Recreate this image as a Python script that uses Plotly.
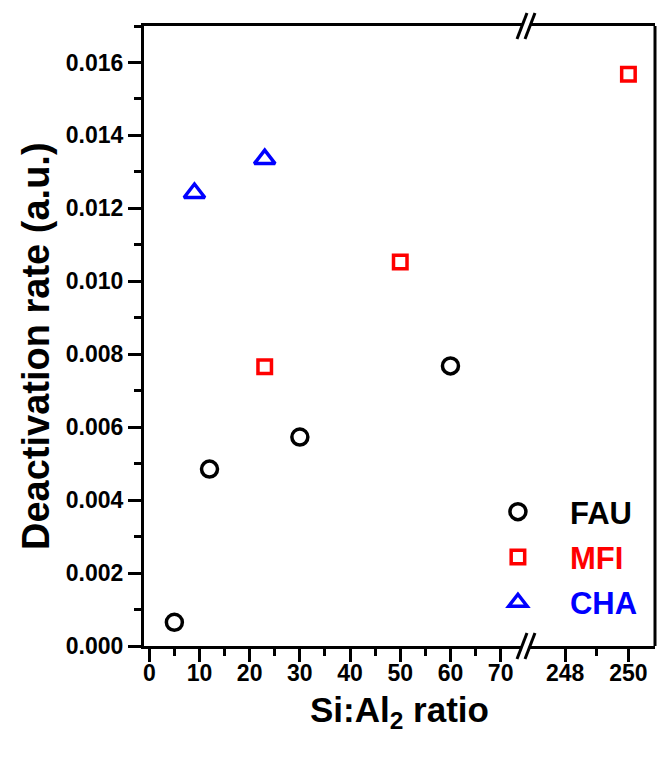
import plotly.graph_objects as go

# ---- data ----
fau_x = [5, 12, 30, 60]
fau_y = [0.00065, 0.00485, 0.00573, 0.00768]
mfi_x = [23, 50, 250]
mfi_y = [0.00766, 0.01053, 0.01568]
cha_x = [9, 23]
cha_y = [0.01242, 0.01335]

left_ticks = [0, 10, 20, 30, 40, 50, 60, 70]
right_ticks = [248, 250]
left_range = [-1.05, 74.25]
right_range = [246.89, 250.84]
break_at = 100  # any x beyond this goes to the right segment

FONT = "Arial, Liberation Sans, sans-serif"

def split(xs, ys):
    lx, ly, rx, ry = [], [], [], []
    for x, y in zip(xs, ys):
        if x > break_at:
            rx.append(x); ry.append(y)
        else:
            lx.append(x); ly.append(y)
    return lx, ly, rx, ry

series = [
    ("FAU", fau_x, fau_y, "black", "circle-open", 16),
    ("MFI", mfi_x, mfi_y, "red", "square-open", 13.5),
    ("CHA", cha_x, cha_y, "blue", "triangle-up-open", 18),
]

fig = go.Figure()
for name, xs, ys, col, sym, sz in series:
    lx, ly, rx, ry = split(xs, ys)
    mk = dict(symbol=sym, size=sz, color=col, line=dict(color=col, width=3.5))
    fig.add_trace(go.Scatter(
        x=lx, y=ly, mode="markers", marker=mk, xaxis="x", yaxis="y",
        name=f"<span style='color:{col}'>{name}</span>", legendgroup=name, showlegend=True))
    if rx:
        fig.add_trace(go.Scatter(
            x=rx, y=ry, mode="markers", marker=mk, xaxis="x2", yaxis="y",
            name=name, legendgroup=name, showlegend=False))

d_left_end = 0.7397
d_right_start = 0.7554

axis_common = dict(
    showline=True, linewidth=3, linecolor="black", mirror=True,
    ticks="outside", ticklen=13, tickwidth=3, tickcolor="black",
    showgrid=False, zeroline=False,
    tickfont=dict(family=FONT, size=23, color="black", weight="bold"),
)

fig.update_layout(
    width=658, height=758,
    margin=dict(l=144, r=3, t=26, b=112),
    plot_bgcolor="white", paper_bgcolor="white",
    xaxis=dict(axis_common, domain=[0, d_left_end], range=left_range,
               tickvals=left_ticks, anchor="y", ticklabelstandoff=-9,
               minor=dict(ticks="outside", ticklen=7, tickwidth=3, tickcolor="black",
                          tickvals=[5, 15, 25, 35, 45, 55, 65])),
    xaxis2=dict(axis_common, domain=[d_right_start, 1], range=right_range,
                tickvals=right_ticks, anchor="y", ticklabelstandoff=-9,
                minor=dict(ticks="outside", ticklen=7, tickwidth=3, tickcolor="black",
                           tickvals=[249])),
    yaxis=dict(axis_common, mirror=False, range=[0, 0.017], dtick=0.002, tick0=0,
               tickformat=".3f", anchor="x",
               minor=dict(ticks="outside", ticklen=7, tickwidth=3, tickcolor="black", dtick=0.001)),
    legend=dict(x=0.63, y=0.1435, xanchor="left", yanchor="middle",
                font=dict(family=FONT, size=31, color="black", weight="bold"),
                itemwidth=94, tracegroupgap=2, bgcolor="rgba(0,0,0,0)", borderwidth=0),
    showlegend=True,
)

# y-axis title
fig.add_annotation(text="Deactivation rate (a.u.)", xref="paper", yref="paper",
                   x=0, xshift=-108, xanchor="center", y=0.5, yshift=-10, yanchor="middle",
                   textangle=-90, showarrow=False,
                   font=dict(family=FONT, size=38, color="black", weight="bold"))

# x-axis title centred under the whole (broken) axis
fig.add_annotation(text="Si:Al<sub>2</sub> ratio", xref="paper", yref="paper",
                   x=0.5, y=0, yshift=-66, yanchor="middle", showarrow=False,
                   font=dict(family=FONT, size=35, color="black", weight="bold"))

# right border of the frame
fig.add_shape(type="line", xref="paper", yref="paper", x0=1, x1=1, y0=0, y1=1,
              line=dict(color="black", width=3))

# axis break marks
xa = (d_left_end + d_right_start) / 2
for ya in (0, 1):
    for c in (-4, 4):
        fig.add_shape(type="line", xref="paper", yref="paper",
                      xsizemode="pixel", ysizemode="pixel", xanchor=xa, yanchor=ya,
                      x0=c - 5, x1=c + 5, y0=-13, y1=13,
                      line=dict(color="black", width=3))

fig.write_html("out.html")
